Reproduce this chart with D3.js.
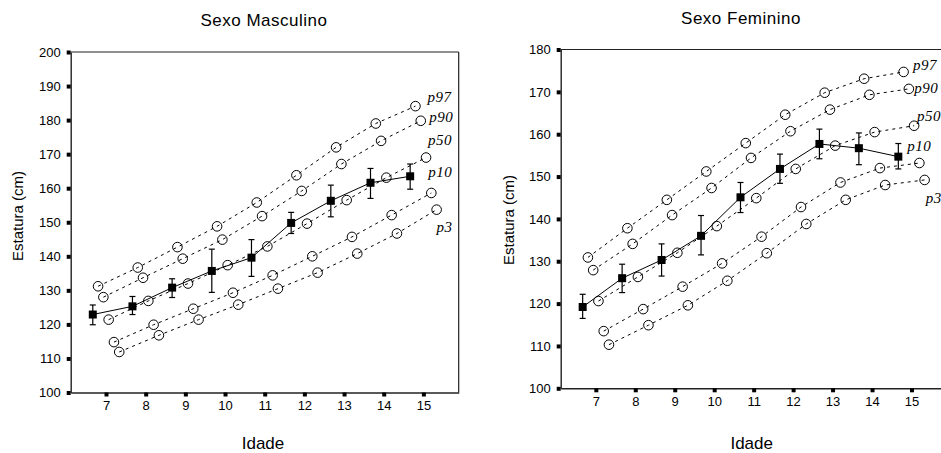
<!DOCTYPE html>
<html>
<head>
<meta charset="utf-8">
<script src="https://cdn.jsdelivr.net/npm/d3@7"></script>
<style>
body { margin: 0; background: #fff; }
svg text { font-family: "Liberation Sans", Arial, sans-serif; fill: #000; }
.pct { font-family: "Liberation Serif", "Times New Roman", serif !important; font-style: italic; }
</style>
</head>
<body>
<script>
var w = 941;
var h = 453;

// idades (grupos do eixo x)
var ages = [7, 8, 9, 10, 11, 12, 13, 14, 15];
var series = ["media", "p97", "p90", "p50", "p10", "p3"];
var percentis = ["p97", "p90", "p50", "p10", "p3"];

// Sexo Masculino
var mascTicksY = [100, 110, 120, 130, 140, 150, 160, 170, 180, 190, 200];
var mascMedia = [122.9, 125.3, 130.8, 135.7, 139.6, 149.8, 156.3, 161.6, 163.5];
var mascLo    = [119.9, 122.9, 127.9, 129.4, 134.1, 146.7, 151.6, 157.0, 159.7];
var mascHi    = [125.7, 128.2, 133.4, 142.1, 144.9, 152.9, 160.9, 165.8, 167.1];
var mascP97 = [131.2, 136.7, 142.7, 148.8, 155.8, 163.8, 172.0, 179.0, 184.1];
var mascP90 = [128.0, 133.7, 139.3, 144.9, 151.8, 159.2, 167.1, 173.9, 179.8];
var mascP50 = [121.4, 126.9, 132.0, 137.4, 142.9, 149.6, 156.5, 163.1, 169.0];
var mascP10 = [114.8, 119.9, 124.6, 129.3, 134.4, 140.0, 145.7, 152.1, 158.6];
var mascP3  = [111.9, 116.8, 121.4, 125.8, 130.5, 135.2, 140.8, 146.7, 153.7];

// Sexo Feminino
var femTicksY = [100, 110, 120, 130, 140, 150, 160, 170, 180];
var femMedia = [119.2, 126.0, 130.3, 136.0, 145.1, 151.8, 157.7, 156.7, 154.7];
var femLo    = [116.5, 122.6, 126.5, 131.5, 141.5, 148.4, 154.2, 152.8, 151.8];
var femHi    = [122.2, 129.3, 134.1, 140.8, 148.6, 155.3, 161.2, 160.3, 157.8];
var femP97 = [130.9, 137.8, 144.5, 151.2, 157.9, 164.6, 169.8, 173.1, 174.7];
var femP90 = [127.9, 134.1, 140.9, 147.3, 154.4, 160.7, 165.8, 169.3, 170.7];
var femP50 = [120.6, 126.3, 132.0, 138.3, 144.9, 151.8, 157.3, 160.5, 162.0];
var femP10 = [113.5, 118.7, 124.0, 129.5, 135.8, 142.8, 148.6, 152.0, 153.2];
var femP3  = [110.3, 114.9, 119.6, 125.4, 131.9, 138.8, 144.5, 148.0, 149.2];

var svg = d3.select("body")
    .append("svg")
    .attr("width", w)
    .attr("height", h);

//deslocamento de cada serie dentro do grupo de idade
var offset = d3.scalePoint()
    .domain(series)
    .range([-1/3, 1/3]);

var panels = [
    {
        title: "Sexo Masculino", titleX: 264, titleY: 26,
        xLabelX: 263, xLabelY: 449, yLabelX: 23, yLabelY: 216,
        left: 70.7, right: 458.7, top: 52, bottom: 392.5, box: true,
        yDomain: [100, 200], yTicks: mascTicksY,
        media: mascMedia, lo: mascLo, hi: mascHi,
        pct: { p97: mascP97, p90: mascP90, p50: mascP50, p10: mascP10, p3: mascP3 },
        labelPos: { p97: [12, -4], p90: [8.5, 1], p50: [2, -13], p10: [-3, -16], p3: [0, 22] }
    },
    {
        title: "Sexo Feminino", titleX: 741, titleY: 24,
        xLabelX: 751.7, xLabelY: 449, yLabelX: 513.5, yLabelY: 220,
        left: 560.7, right: 946.6, top: 49.5, bottom: 388.3, box: false,
        yDomain: [100, 180], yTicks: femTicksY,
        media: femMedia, lo: femLo, hi: femHi,
        pct: { p97: femP97, p90: femP90, p50: femP50, p10: femP10, p3: femP3 },
        labelPos: { p97: [9.5, -2], p90: [5.5, 4], p50: [3, -5], p10: [-12, -12], p3: [1, 23] }
    }
];

panels.forEach(function(p) {
    var xScale = d3.scaleLinear()
        .domain([6.11, 15.89])
        .range([p.left, p.right]);
    var yScale = d3.scaleLinear()
        .domain(p.yDomain)
        .range([p.bottom, p.top]);

    var g = svg.append("g");

    //moldura
    g.append("line")
        .attr("x1", p.left).attr("x2", p.right)
        .attr("y1", p.top).attr("y2", p.top)
        .attr("stroke", "#222").attr("stroke-width", 1.2);
    if (p.box) {
        g.append("line")
            .attr("x1", p.right).attr("x2", p.right)
            .attr("y1", p.top).attr("y2", p.bottom)
            .attr("stroke", "#222").attr("stroke-width", 1.2);
    }

    //eixos
    var xAxis = d3.axisBottom(xScale)
        .tickValues(ages)
        .tickSize(4)
        .tickSizeOuter(0)
        .tickPadding(4);
    var yAxis = d3.axisLeft(yScale)
        .tickValues(p.yTicks)
        .tickSize(4)
        .tickSizeOuter(0)
        .tickPadding(6);

    var gx = g.append("g")
        .attr("transform", "translate(0," + p.bottom + ")")
        .call(xAxis);
    var gy = g.append("g")
        .attr("transform", "translate(" + p.left + ",0)")
        .call(yAxis);

    [gx, gy].forEach(function(a) {
        a.select(".domain").attr("stroke", "#222").attr("stroke-width", 1.4);
        a.selectAll(".tick line").attr("stroke", "#000").attr("stroke-width", 4);
        a.selectAll(".tick text")
            .attr("font-size", "13px")
            .attr("font-family", "Liberation Sans, Arial, sans-serif")
            .attr("fill", "#000");
    });

    //linhas dos percentis
    percentis.forEach(function(k) {
        var vals = p.pct[k];
        var line = d3.line()
            .x(function(d, i) { return xScale(ages[i] + offset(k)); })
            .y(function(d) { return yScale(d); });

        g.append("path")
            .datum(vals)
            .attr("d", line)
            .attr("fill", "none")
            .attr("stroke", "#000")
            .attr("stroke-width", 1)
            .attr("stroke-dasharray", "3,4");

        g.selectAll(".c-" + k)
            .data(vals)
            .enter()
            .append("circle")
            .attr("cx", function(d, i) { return xScale(ages[i] + offset(k)); })
            .attr("cy", function(d) { return yScale(d); })
            .attr("r", 4.8)
            .attr("fill", "none")
            .attr("stroke", "#000")
            .attr("stroke-width", 1);

        var last = vals.length - 1;
        g.append("text")
            .attr("class", "pct")
            .attr("x", xScale(ages[last] + offset(k)) + p.labelPos[k][0])
            .attr("y", yScale(vals[last]) + p.labelPos[k][1])
            .attr("font-size", "15px")
            .attr("letter-spacing", "0.5px")
            .text(k);
    });

    //media com barras de erro
    var mx = function(i) { return xScale(ages[i] + offset("media")); };

    g.append("path")
        .datum(p.media)
        .attr("d", d3.line()
            .x(function(d, i) { return mx(i); })
            .y(function(d) { return yScale(d); }))
        .attr("fill", "none")
        .attr("stroke", "#000")
        .attr("stroke-width", 1);

    var err = g.selectAll(".err")
        .data(p.media)
        .enter()
        .append("g");
    err.append("line")
        .attr("x1", function(d, i) { return mx(i); })
        .attr("x2", function(d, i) { return mx(i); })
        .attr("y1", function(d, i) { return yScale(p.lo[i]); })
        .attr("y2", function(d, i) { return yScale(p.hi[i]); })
        .attr("stroke", "#000").attr("stroke-width", 1.2);
    err.append("line")
        .attr("x1", function(d, i) { return mx(i) - 3; })
        .attr("x2", function(d, i) { return mx(i) + 3; })
        .attr("y1", function(d, i) { return yScale(p.lo[i]); })
        .attr("y2", function(d, i) { return yScale(p.lo[i]); })
        .attr("stroke", "#000").attr("stroke-width", 1.2);
    err.append("line")
        .attr("x1", function(d, i) { return mx(i) - 3; })
        .attr("x2", function(d, i) { return mx(i) + 3; })
        .attr("y1", function(d, i) { return yScale(p.hi[i]); })
        .attr("y2", function(d, i) { return yScale(p.hi[i]); })
        .attr("stroke", "#000").attr("stroke-width", 1.2);
    err.append("rect")
        .attr("x", function(d, i) { return mx(i) - 4; })
        .attr("y", function(d) { return yScale(d) - 4; })
        .attr("width", 8)
        .attr("height", 8)
        .attr("fill", "#000");

    //titulos
    g.append("text")
        .attr("x", p.titleX).attr("y", p.titleY)
        .attr("text-anchor", "middle")
        .attr("font-size", "17px")
        .attr("letter-spacing", "0.5px")
        .text(p.title);
    g.append("text")
        .attr("x", p.xLabelX).attr("y", p.xLabelY)
        .attr("text-anchor", "middle")
        .attr("font-size", "17px")
        .text("Idade");
    g.append("text")
        .attr("transform", "translate(" + p.yLabelX + "," + p.yLabelY + ") rotate(-90)")
        .attr("text-anchor", "middle")
        .attr("font-size", "15px")
        .text("Estatura (cm)");
});
</script>
</body>
</html>
